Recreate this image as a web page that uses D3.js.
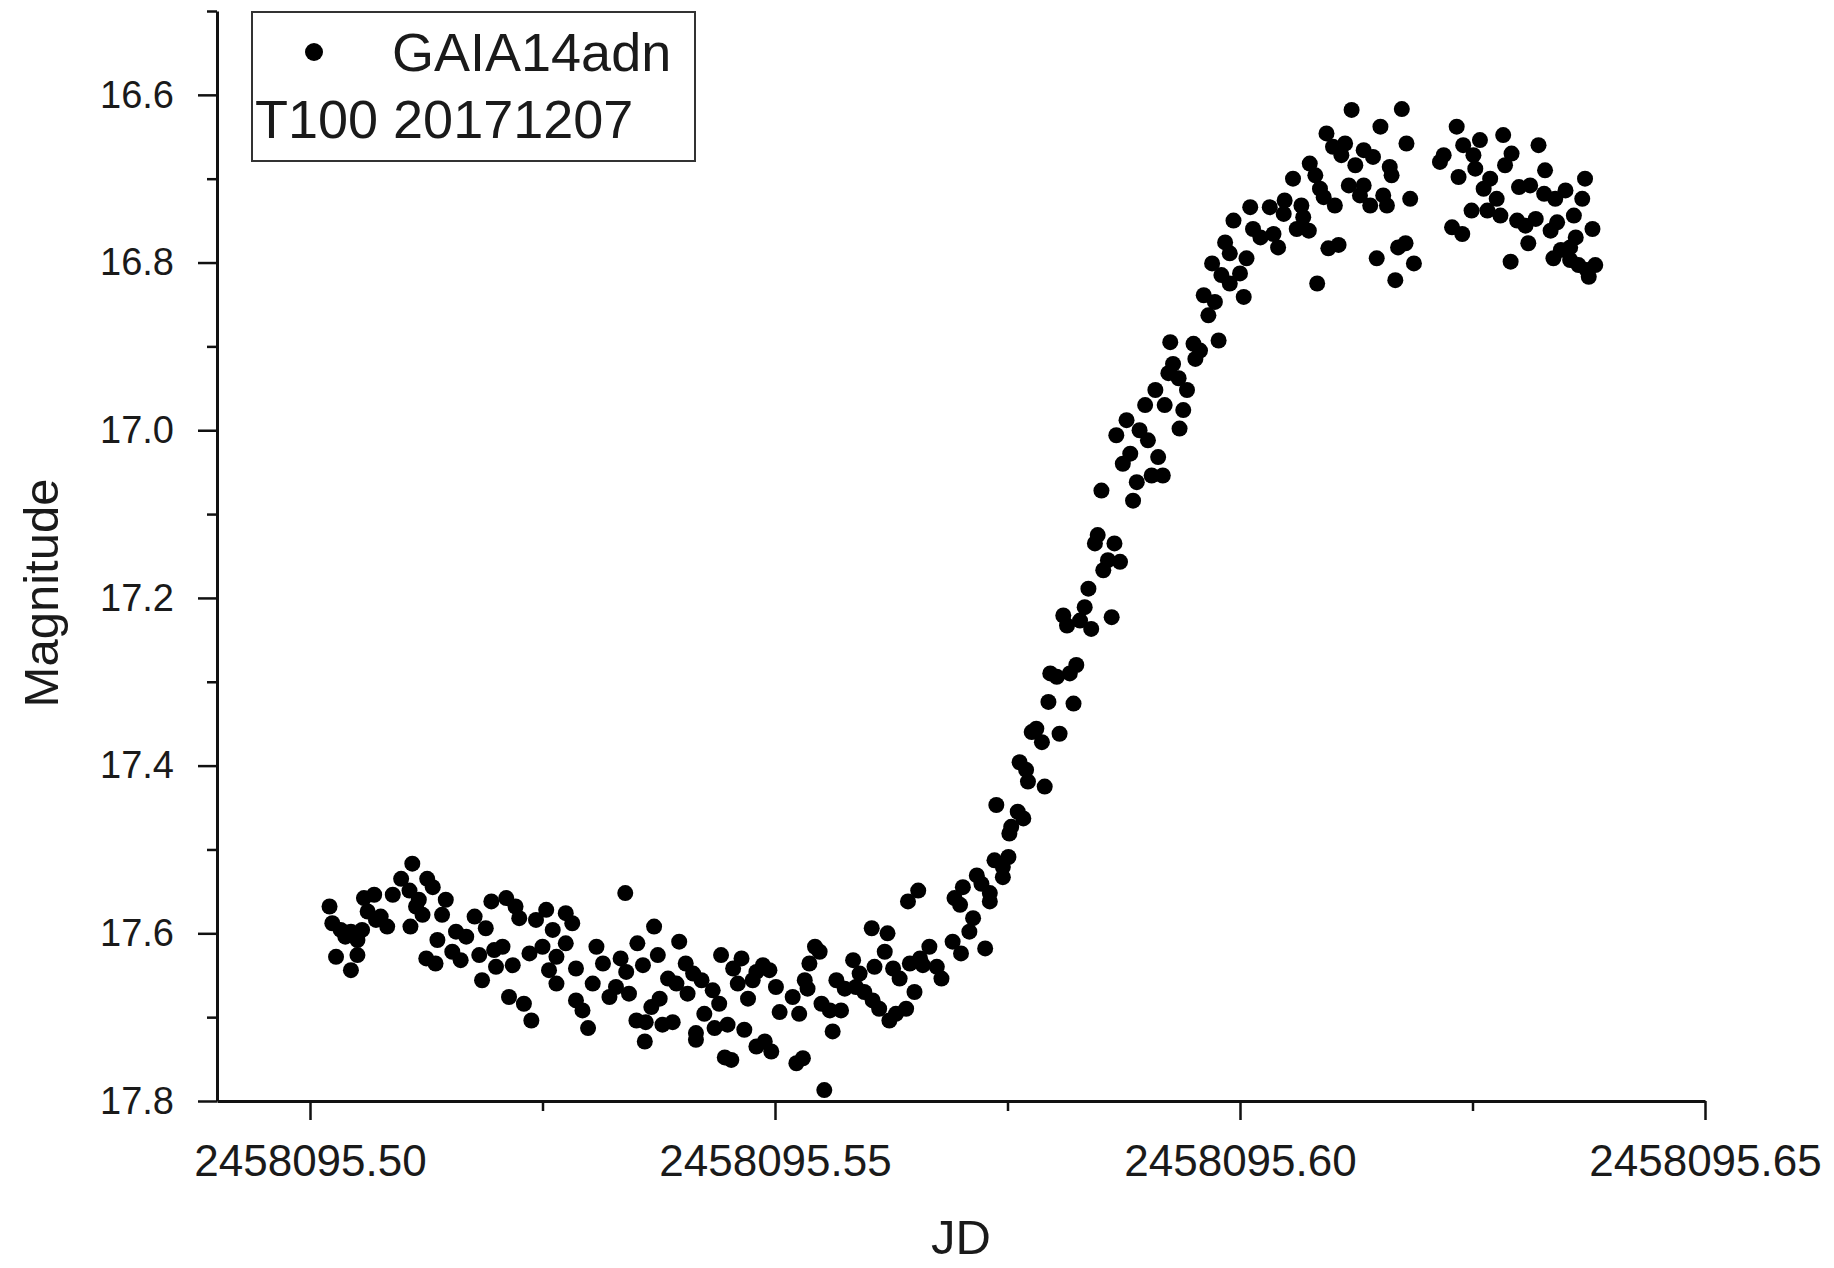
<!DOCTYPE html>
<html>
<head>
<meta charset="utf-8">
<script src="https://cdn.jsdelivr.net/npm/d3@7"></script>
<style>
	body { margin: 0; background: #fff; }
	svg text { font-family: "Liberation Sans", Arial, sans-serif; }
</style>
</head>
<body>
<svg id="chart"></svg>
<script>
// GAIA14adn light curve, T100 run of 2017-12-07
const jdBase = 2458095;
// fractional part of the Julian date for each observation
const jdFrac = [
	.5021, .5024, .5033, .5038, .5028, .5044, .5051, .5044, .5051, .5056, .5058, .5069, .5062, .5076, .5083, .5071,
	.5089, .5098, .5110, .5107, .5117, .5126, .5132, .5121, .5108, .5114, .5146, .5142, .5137, .5125, .5135, .5157,
	.5168, .5153, .5162, .5177, .5189, .5195, .5182, .5185, .5211, .5221, .5225, .5198, .5207, .5200, .5218, .5236,
	.5243, .5254, .5261, .5275, .5282, .5250, .5265, .5275, .5257, .5265, .5286, .5214, .5230, .5238, .5308, .5315,
	.5334, .5340, .5352, .5358, .5370, .5374, .5339, .5304, .5286, .5293, .5299, .5322, .5329, .5343, .5397, .5404,
	.5412, .5385, .5394, .5406, .5421, .5433, .5440, .5424, .5376, .5367, .5351, .5361, .5379, .5390, .5360, .5415,
	.5415, .5435, .5449, .5467, .5442, .5455, .5464, .5460, .5471, .5480, .5487, .5494, .5501, .5476, .5446, .5453,
	.5480, .5489, .5496, .5505,
	.5781, .5787, .5806, .5776, .5763, .5770, .5772, .5790, .5738, .5761, .5767, .5754, .5752, .5751, .5736, .5745,
	.5745, .5717, .5722, .5702, .5693, .5699, .5731, .5731, .5654, .5643, .5713, .5709, .5691, .5700, .5726, .5604,
	.5621, .5618, .5607, .5584, .5591, .5627, .5634, .5645, .5656, .5666, .5674, .5679, .5650, .5659, .5543, .5548,
	.5537, .5532, .5535, .5519, .5526, .5566, .5575, .5587, .5596, .5550, .5559, .5571, .5605, .5612, .5623, .5630,
	.5641, .5562, .5523, .5530, .5553,
	.5925, .5950, .5977, .5957, .5952, .5928, .5923, .5934, .5909, .5943, .5898, .5919, .5939, .5935, .5878, .5867,
	.5892, .5901, .5882, .5874, .5912, .5905, .5917, .5889, .5885, .5851, .5847, .5844, .5865, .5858, .5871, .5853,
	.5837, .5833, .5810, .5814, .5828, .5840, .5862, .5824, .5817, .5796, .5803, .5794, .5821,
	.6120, .6174, .6151, .6179, .6093, .6100, .6113, .6109, .6124, .6133, .6143, .6161, .6163, .6075, .6081, .6057,
	.6086, .6090, .6102, .6117, .6133, .6129, .6140, .6154, .6158, .6183, .6011, .6032, .6048, .6047, .6066, .6068,
	.6061, .6074, .5993, .6014, .6022, .6036, .6041, .5984, .5989, .6007, .5970, .5980, .6000, .5989, .6004, .5961,
	.5973, .5966, .6095, .6106, .6083, .6147, .6170, .6178, .6187, .6167, .6233, .6219, .6215, .6240, .6258, .6251,
	.6235, .6253, .6283, .6292, .6285, .6321, .6269, .6262, .6276, .6249, .6266, .6280, .6300, .6312, .6328, .6327,
	.6339, .6350, .6371, .6368, .6298, .6307, .6318, .6310, .6291, .6228, .6239, .6334, .6341, .6359, .6379, .6361,
	.6355, .6345, .6337, .6355, .6364, .6375, .6382, .6373
];
const mag = [
	17.568, 17.588, 17.596, 17.604, 17.628, 17.644, 17.626, 17.598, 17.608, 17.596, 17.558, 17.554, 17.574, 17.580, 17.592, 17.584,
	17.554, 17.535, 17.517, 17.549, 17.560, 17.535, 17.545, 17.578, 17.592, 17.568, 17.560, 17.578, 17.608, 17.630, 17.636, 17.598,
	17.604, 17.622, 17.632, 17.580, 17.594, 17.562, 17.626, 17.656, 17.558, 17.568, 17.582, 17.620, 17.616, 17.640, 17.638, 17.624,
	17.584, 17.572, 17.596, 17.576, 17.588, 17.616, 17.628, 17.612, 17.644, 17.660, 17.642, 17.676, 17.684, 17.704, 17.616, 17.636,
	17.630, 17.646, 17.612, 17.638, 17.592, 17.626, 17.552, 17.660, 17.680, 17.692, 17.713, 17.676, 17.664, 17.672, 17.610, 17.636,
	17.648, 17.654, 17.660, 17.672, 17.656, 17.668, 17.684, 17.696, 17.678, 17.688, 17.704, 17.706, 17.709, 17.706, 17.729, 17.719,
	17.727, 17.713, 17.709, 17.715, 17.626, 17.642, 17.630, 17.660, 17.678, 17.646, 17.638, 17.644, 17.664, 17.656, 17.748, 17.751,
	17.735, 17.729, 17.741, 17.694,
	17.356, 17.372, 17.362, 17.360, 17.396, 17.405, 17.419, 17.425, 17.447, 17.455, 17.463, 17.473, 17.481, 17.509, 17.513, 17.521,
	17.533, 17.531, 17.541, 17.545, 17.558, 17.566, 17.552, 17.562, 17.549, 17.562, 17.582, 17.598, 17.610, 17.624, 17.618, 17.594,
	17.600, 17.622, 17.640, 17.632, 17.648, 17.642, 17.654, 17.636, 17.630, 17.616, 17.640, 17.654, 17.670, 17.638, 17.616, 17.622,
	17.636, 17.656, 17.666, 17.676, 17.696, 17.656, 17.666, 17.664, 17.670, 17.684, 17.692, 17.692, 17.680, 17.690, 17.704, 17.696,
	17.690, 17.717, 17.755, 17.749, 17.787,
	16.895, 16.897, 16.893, 16.905, 16.915, 16.921, 16.932, 16.938, 16.952, 16.952, 16.970, 16.970, 16.976, 16.998, 16.988, 17.006,
	17.000, 17.012, 17.028, 17.040, 17.032, 17.054, 17.054, 17.062, 17.084, 17.072, 17.125, 17.135, 17.135, 17.155, 17.157, 17.167,
	17.189, 17.211, 17.221, 17.233, 17.227, 17.237, 17.223, 17.280, 17.290, 17.290, 17.294, 17.324, 17.326,
	16.618, 16.617, 16.638, 16.658, 16.646, 16.662, 16.658, 16.672, 16.684, 16.666, 16.674, 16.686, 16.696, 16.682, 16.696, 16.700,
	16.712, 16.722, 16.732, 16.708, 16.708, 16.720, 16.732, 16.720, 16.732, 16.724, 16.734, 16.734, 16.726, 16.742, 16.732, 16.746,
	16.760, 16.762, 16.750, 16.760, 16.770, 16.766, 16.782, 16.776, 16.789, 16.795, 16.801, 16.815, 16.813, 16.825, 16.841, 16.839,
	16.847, 16.863, 16.783, 16.779, 16.825, 16.795, 16.782, 16.777, 16.801, 16.821, 16.638, 16.672, 16.680, 16.660, 16.654, 16.672,
	16.698, 16.688, 16.648, 16.670, 16.684, 16.660, 16.700, 16.712, 16.724, 16.738, 16.738, 16.744, 16.710, 16.708, 16.690, 16.718,
	16.724, 16.714, 16.700, 16.724, 16.750, 16.756, 16.748, 16.777, 16.799, 16.758, 16.766, 16.762, 16.752, 16.744, 16.760, 16.770,
	16.782, 16.785, 16.795, 16.797, 16.803, 16.817, 16.803, 16.809
];

const xDomain = [2458095.49, 2458095.65];
const yDomain = [16.5, 17.8];
const xTicks = [2458095.50, 2458095.55, 2458095.60, 2458095.65];
const xMinorTicks = [2458095.525, 2458095.575, 2458095.625];
const yTicks = [16.6, 16.8, 17.0, 17.2, 17.4, 17.6, 17.8];
const yMinorTicks = [16.5, 16.7, 16.9, 17.1, 17.3, 17.5, 17.7];
const seriesName = 'GAIA14adn';
const legendNote = 'T100 20171207';

class LightCurve {
	constructor(_config, data) {
		this.config = {
			parentElement: _config.parentElement,
			containerWidth: _config.width,
			containerHeight: _config.height,
			margin: {
				top: 11,
				right: 129,
				bottom: 167,
				left: 217
			}
		}
		this.data = data;
		this.initVis();
	}

	initVis() {
		let vis = this;

		vis.config.width = vis.config.containerWidth - vis.config.margin.left - vis.config.margin.right;
		vis.config.height = vis.config.containerHeight - vis.config.margin.top - vis.config.margin.bottom;

		vis.svg = d3.select(vis.config.parentElement)
			.attr('width', vis.config.containerWidth)
			.attr('height', vis.config.containerHeight);

		vis.chartArea = vis.svg.append('g')
			.attr('transform', `translate(${vis.config.margin.left},${vis.config.margin.top})`);

		vis.xScale = d3.scaleLinear()
			.domain(xDomain)
			.range([0, vis.config.width]);
		// magnitudes: brighter (smaller) at the top
		vis.yScale = d3.scaleLinear()
			.domain(yDomain)
			.range([0, vis.config.height]);

		vis.xAxis = d3.axisBottom(vis.xScale)
			.tickValues(xTicks)
			.tickFormat(d3.format('.2f'))
			.tickSize(19)
			.tickSizeOuter(0)
			.tickPadding(25);
		vis.xMinor = d3.axisBottom(vis.xScale)
			.tickValues(xMinorTicks)
			.tickFormat('')
			.tickSize(10)
			.tickSizeOuter(0);

		vis.yAxis = d3.axisLeft(vis.yScale)
			.tickValues(yTicks)
			.tickFormat(d3.format('.1f'))
			.tickSize(19)
			.tickSizeOuter(0)
			.tickPadding(24);
		vis.yMinor = d3.axisLeft(vis.yScale)
			.tickValues(yMinorTicks)
			.tickFormat('')
			.tickSize(10)
			.tickSizeOuter(0);

		vis.xAxisG = vis.chartArea.append('g')
			.attr('class', 'axis x-axis')
			.attr('transform', `translate(0,${vis.config.height})`);
		vis.xMinorG = vis.chartArea.append('g')
			.attr('transform', `translate(0,${vis.config.height})`);
		vis.yAxisG = vis.chartArea.append('g')
			.attr('class', 'axis y-axis');
		vis.yMinorG = vis.chartArea.append('g');

		vis.yAxisTitle = vis.svg.append('text')
			.attr('transform', 'translate(58,593) rotate(-90)')
			.attr('font-size', 49)
			.attr('fill', '#1a1a1a')
			.style('text-anchor', 'middle');

		vis.xAxisTitle = vis.svg.append('text')
			.attr('x', 961)
			.attr('y', 1254)
			.attr('font-size', 49)
			.attr('fill', '#1a1a1a')
			.style('text-anchor', 'middle');

		vis.renderVis();
	}

	renderVis() {
		let vis = this;

		vis.chartArea.selectAll('.point')
			.data(vis.data)
			.join('circle')
			.attr('class', 'point')
			.attr('r', 8)
			.attr('cx', d => vis.xScale(d.jd))
			.attr('cy', d => vis.yScale(d.mag))
			.attr('fill', '#000');

		vis.xAxisG.call(vis.xAxis);
		vis.xMinorG.call(vis.xMinor);
		vis.yAxisG.call(vis.yAxis);
		vis.yMinorG.call(vis.yMinor);

		[vis.xAxisG, vis.yAxisG, vis.xMinorG, vis.yMinorG].forEach(g => {
			g.attr('color', '#111')
				.attr('font-family', '"Liberation Sans", Arial, sans-serif');
			g.select('.domain').attr('stroke-width', 3);
			g.selectAll('.tick line').attr('stroke-width', 2.5);
		});
		vis.xMinorG.select('.domain').remove();
		vis.yMinorG.select('.domain').remove();
		vis.xAxisG.attr('font-size', 44);
		vis.yAxisG.attr('font-size', 38);
		vis.xAxisG.selectAll('.tick text').attr('fill', '#1a1a1a');
		vis.yAxisG.selectAll('.tick text').attr('fill', '#1a1a1a');

		vis.xAxisTitle.text('JD');
		vis.yAxisTitle.text('Magnitude');

		// legend box
		const legend = vis.svg.append('g');
		legend.append('rect')
			.attr('x', 252)
			.attr('y', 12)
			.attr('width', 443)
			.attr('height', 149)
			.attr('fill', '#fff')
			.attr('stroke', '#333')
			.attr('stroke-width', 2);
		legend.append('circle')
			.attr('cx', 314)
			.attr('cy', 52)
			.attr('r', 9)
			.attr('fill', '#000');
		legend.append('text')
			.attr('x', 392)
			.attr('y', 71)
			.attr('font-size', 54)
			.attr('fill', '#1a1a1a')
			.text(seriesName);
		legend.append('text')
			.attr('x', 255)
			.attr('y', 138)
			.attr('font-size', 54)
			.attr('fill', '#1a1a1a')
			.text(legendNote);
	}
}

const data = jdFrac.map((f, i) => ({ jd: jdBase + f, mag: mag[i] }));

new LightCurve({ parentElement: '#chart', width: 1834, height: 1268 }, data);
</script>
</body>
</html>
